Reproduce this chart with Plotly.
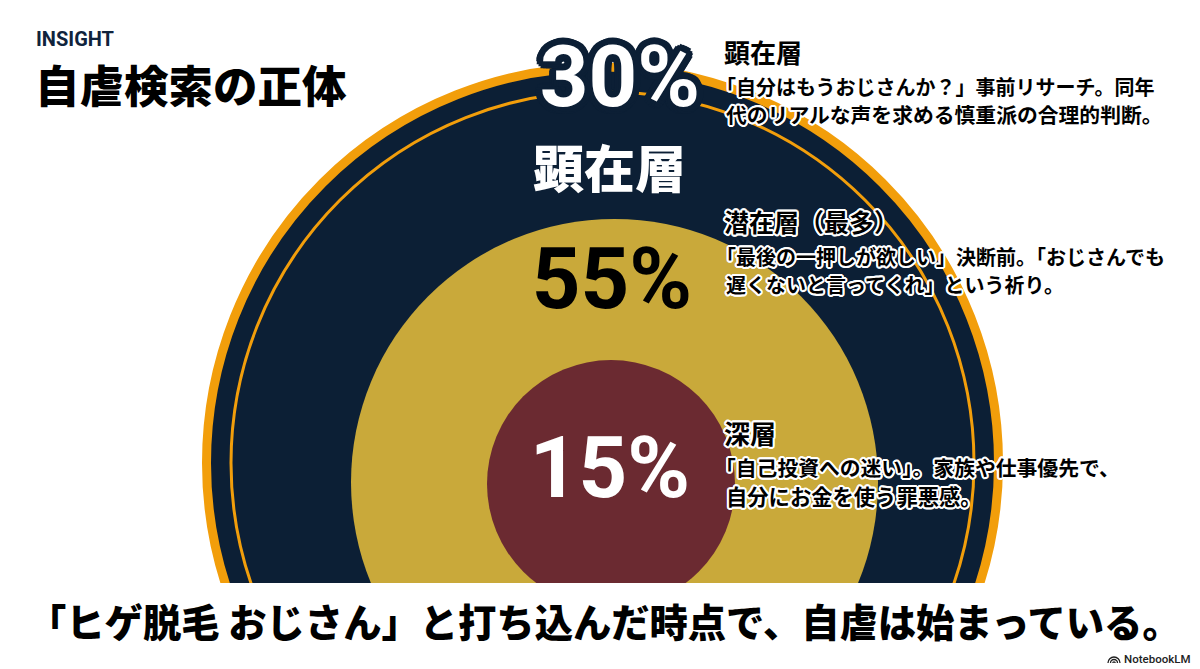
import math
import plotly.graph_objects as go

# ---- data ----
layer_names = ["顕在層", "潜在層（最多）", "深層"]
layer_shares = [30, 55, 15]
layer_lines = [
    ["「自分はもうおじさんか？」事前リサーチ。同年", "代のリアルな声を求める慎重派の合理的判断。"],
    ["「最後の一押しが欲しい」決断前。「おじさんでも", "遅くないと言ってくれ」という祈り。"],
    ["「自己投資への迷い」。家族や仕事優先で、", "自分にお金を使う罪悪感。"],
]
kicker = "INSIGHT"
title = "自虐検索の正体"
center_label = "顕在層"
footer = "「ヒゲ脱毛 おじさん」と打ち込んだ時点で、自虐は始まっている。"
credit = "NotebookLM"

# ---- style ----
W, H = 1200, 669
CLIP_Y = 583
NAVY, GOLD, WINE, ORANGE = "#0C1F35", "#C9A93A", "#6B2A31", "#F29E0B"
CJK = "Noto Sans CJK JP"
LATIN = "Roboto"
PCT_SIZE = 85


def halo(color, r):
    parts = []
    for i in range(16):
        a = 2 * math.pi * i / 16
        parts.append(f"{r*math.cos(a):.1f}px {r*math.sin(a):.1f}px 0 {color}")
    return ", ".join(parts)


def circle(cx, cy, r, fill, line=None, lw=0):
    return dict(type="circle", xref="x", yref="y", layer="below",
                x0=cx - r, x1=cx + r, y0=cy - r, y1=cy + r,
                fillcolor=fill, line=dict(color=line or fill, width=lw))


def label(px, py, text, size, color="#000", weight=700, family=CJK, shadow=None, anchor="left"):
    font = dict(size=size, color=color, family=family, weight=weight)
    if shadow:
        font["shadow"] = shadow
    return dict(x=px / W, y=1 - py / H, xref="paper", yref="paper", text=text, showarrow=False,
                xanchor=anchor, yanchor="middle", font=font, borderpad=0)


def dome(cx, base, r):
    """small arc of the credit icon, in paper coordinates"""
    fx = lambda v: f"{v / W:.5f}"
    fy = lambda v: f"{1 - v / H:.5f}"
    k = 0.55 * r
    path = (f"M {fx(cx - r)} {fy(base)} C {fx(cx - r)} {fy(base - k)} {fx(cx - k)} {fy(base - r)} {fx(cx)} {fy(base - r)} "
            f"C {fx(cx + k)} {fy(base - r)} {fx(cx + r)} {fy(base - k)} {fx(cx + r)} {fy(base)}")
    return dict(type="path", xref="paper", yref="paper", path=path,
                line=dict(color="#222222", width=1.3), fillcolor="rgba(0,0,0,0)")


fig = go.Figure()

pct_x = [620, 612, 610]
pct_y = [85, 287, 476]
pct_col = ["#FFFFFF", "#000000", "#FFFFFF"]
fig.add_trace(go.Scatter(
    x=pct_x[1:], y=pct_y[1:], mode="text", text=[f"{v}%" for v in layer_shares[1:]], cliponaxis=False,
    textposition="middle center", hoverinfo="skip", showlegend=False,
    textfont=dict(size=PCT_SIZE, family=LATIN, weight=700, color=pct_col[1:]),
))
fig.add_trace(go.Scatter(
    x=pct_x[:1], y=pct_y[:1], mode="text", text=[f"{layer_shares[0]}%"], cliponaxis=False,
    textposition="middle center", hoverinfo="skip", showlegend=False,
    textfont=dict(size=PCT_SIZE, family=LATIN, weight=700, color=pct_col[0], shadow=halo(NAVY, 7)),
))

shapes = [
    circle(602.5, 463, 396, NAVY, ORANGE, 9),
    circle(602.5, 463, 371.5, "rgba(0,0,0,0)", ORANGE, 3),
    circle(614.5, 482.5, 263.5, GOLD),
    circle(611, 484, 124, WINE),
    dome(1114, 663, 6),
    dome(1114, 663, 3.5),
    dome(1114, 663, 1.2),
]

white2 = halo("#FFFFFF", 2)
ann = [
    label(35, 38.5, kicker, 20, color="#10233C", family=LATIN),
    label(34, 83, title, 44.5, weight=900),
    label(532, 166, center_label, 51, color="#FFFFFF", weight=900),
    label(27, 620, footer, 38.3, weight=900),
    label(1123, 658.5, credit, 11.5, color="#222222", family=LATIN, weight=500),
]
heads_y = [52, 221, 432]
heads_size = [26, 25, 26]
rows = [
    [(715, 87, 20), (725, 114.5, 20.8)],
    [(715, 256.5, 20), (725, 284, 20)],
    [(714, 466.5, 20.8), (725, 495, 21.3)],
]
for name, hy, hs, lines, row in zip(layer_names, heads_y, heads_size, layer_lines, rows):
    ann.append(label(723, hy, name, hs, weight=700, shadow=white2))
    for line, (lx, ly, ls) in zip(lines, row):
        ann.append(label(lx, ly, line, ls, weight=700, shadow=white2))

fig.update_layout(
    width=W, height=H, margin=dict(l=0, r=0, t=0, b=0),
    paper_bgcolor="#FFFFFF", plot_bgcolor="#FFFFFF",
    xaxis=dict(range=[0, W], visible=False, domain=[0, 1], fixedrange=True),
    yaxis=dict(range=[CLIP_Y, 0], visible=False, domain=[1 - CLIP_Y / H, 1], fixedrange=True),
    shapes=shapes, annotations=ann, showlegend=False,
)
fig.write_html("out.html", config={"displayModeBar": False},
               post_script="document.body.style.margin='0';")
